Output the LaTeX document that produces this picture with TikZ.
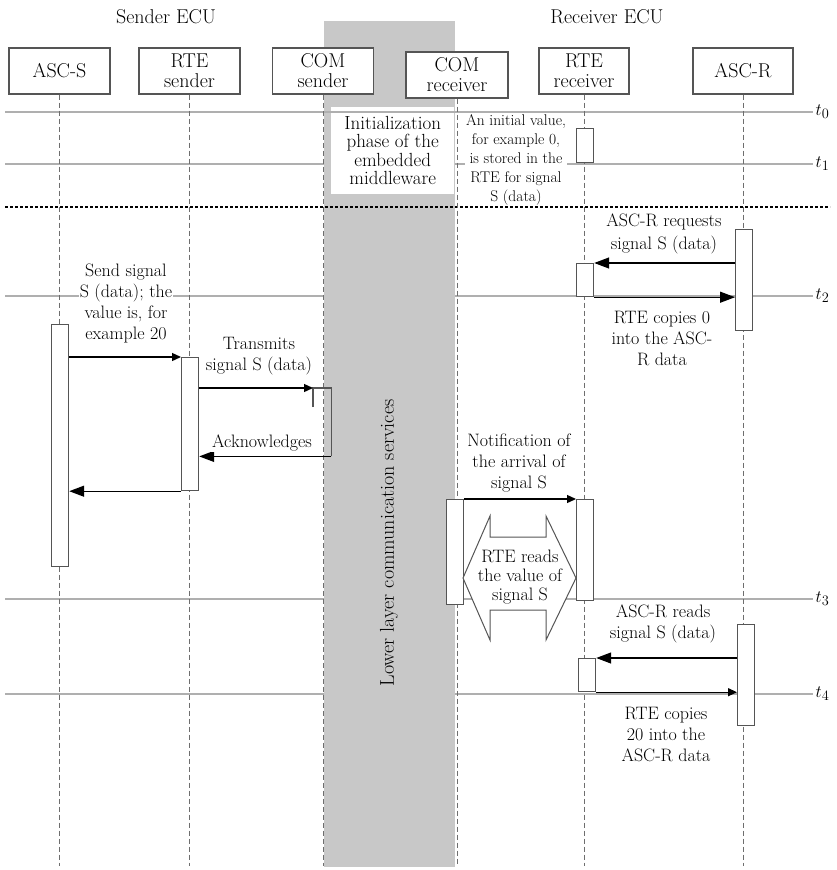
\documentclass[tikz,border=0pt]{standalone}
\usetikzlibrary{arrows.meta}
\definecolor{bandgray}{RGB}{200,200,200}
\definecolor{tgray}{RGB}{175,175,175}
\definecolor{lgray}{RGB}{110,110,110}
\definecolor{boxgray}{RGB}{85,85,85}
\tikzset{
  head/.style={draw=boxgray,line width=1.2pt,fill=white,minimum height=46pt,align=center,inner sep=1pt,font=\fontsize{20}{20}\selectfont},
  bar/.style={draw=boxgray,line width=1.2pt,fill=white,minimum width=17pt,inner sep=0pt,anchor=north west},
  life/.style={lgray,line width=1pt,dash pattern=on 5pt off 3pt},
  tline/.style={tgray,line width=1.4pt},
  bigtip/.style={-{Triangle[length=15pt,width=11pt]},line width=1.3pt},
  smalltip/.style={-{Triangle[length=9pt,width=8pt]},line width=1.3pt},
  lbl/.style={align=center,fill=white,inner sep=1pt,font=\fontsize{18}{21}\selectfont},
  tlbl/.style={right,black,inner sep=2pt,font=\fontsize{19}{20}\selectfont},
}
\begin{document}
\begin{tikzpicture}[x=1pt,y=-1pt]
\useasboundingbox (0,0) rectangle (836,870);
% time lines under the band
\foreach \y/\t in {164/1,296/2,599/3,694/4}
  \draw[tline](5,\y)--(813,\y)node[tlbl]{$t_\t$};
% lower layer
\fill[bandgray](324,21)rectangle(455,867);
\node[fill=white,minimum width=123pt,minimum height=87pt,anchor=north west,inner sep=0pt,align=center,font=\fontsize{19}{18.5}\selectfont](init) at (331,107){Initialization\\phase of the\\embedded\\middleware};
\node[rotate=90,font=\fontsize{20}{20}\selectfont](low) at (389,543){Lower layer communication services};
\draw[tline](5,112)--(813,112)node[tlbl]{$t_0$};
\draw[line width=1.6pt,dash pattern=on 3pt off 2pt](5,207)--(830,207);
% ECUs
\node[font=\fontsize{20}{20}\selectfont](snd) at (166,17){Sender ECU};
\node[font=\fontsize{20}{20}\selectfont](rcv) at (607,17){Receiver ECU};
\node[head,minimum width=101pt](aS) at (59.5,71){ASC-S};
\node[head,minimum width=101pt](rS) at (189.5,71){RTE\\sender};
\node[head,minimum width=101pt](cS) at (323,71){COM\\sender};
\node[head,minimum width=102pt](cR) at (457,75){COM\\receiver};
\node[head,minimum width=90pt](rR) at (584,71){RTE\\receiver};
\node[head,minimum width=100pt](aR) at (743,71){ASC-R};
\coordinate (bottom) at (0,866);
\foreach \n in {aS,rS,cS,cR,rR,aR}
  \draw[life](\n.south)--(\n.south|-bottom);
% activations
\node[bar,minimum height=34pt](rrA) at (576,128){};
\node[bar,minimum height=101pt](arA) at (735,229){};
\node[bar,minimum height=33pt](rrB) at (576,263){};
\node[bar,minimum height=242pt](asA) at (51,324){};
\node[bar,minimum height=133pt](rsA) at (181,357){};
\node[minimum width=18pt,minimum height=68pt,inner sep=0pt,anchor=north west](csA) at (313,388){};
\draw[boxgray,line width=1.2pt]([yshift=-19pt]csA.north west)--(csA.north west)--(csA.north east)--(csA.south east);
\node[bar,minimum height=105pt](crA) at (446,499){};
\node[bar,minimum height=101pt](rrC) at (576,499){};
\node[bar,minimum height=101pt](arB) at (737,624){};
\node[bar,minimum height=33pt](rrD) at (578,658){};
% messages
\draw[smalltip](asA.north east|-rsA.north)--(rsA.north west);
\draw[smalltip](rsA.east|-csA.north)--(csA.north west);
\draw[bigtip](csA.south east)--(rsA.east|-csA.south);
\draw[bigtip](rsA.south west)--(asA.east|-rsA.south);
\draw[bigtip](arA.west|-rrB.north)--(rrB.north east);
\draw[bigtip](rrB.south east)--(arA.west|-rrB.south);
\draw[smalltip](crA.north east)--(rrC.north west);
\draw[bigtip](arB.west|-rrD.north)--(rrD.north east);
\draw[smalltip](rrD.south east)--(arB.west|-rrD.south);
% RTE reads
\draw[boxgray,line width=1pt,fill=white](463,578)--(490,516)--(490,537)--(546,537)--(546,516)--(576,578)--(546,640)--(546,610)--(490,610)--(490,640)--cycle;
\node[align=center,inner sep=0pt,font=\fontsize{18}{19}\selectfont](rd) at (520,577){RTE reads\\the value of\\signal S};
% labels
\node[lbl,font=\fontsize{15.5}{19}\selectfont](ini) at (516,160){An initial value,\\for example 0,\\is stored in the\\RTE for signal\\S (data)};
\node[lbl](send) at (126,303){Send signal\\S (data); the\\value is, for\\example 20};
\node[lbl](tx) at (259,356){Transmits\\signal S (data)};
\node[lbl](ack) at (262,443){Acknowledges};
\node[lbl](req) at (664,234){ASC-R requests\\[2pt]signal S (data)};
\node[lbl](cp0) at (662,338){RTE copies 0\\into the ASC-\\R data};
\node[lbl](ntf) at (519,463){Notification of\\the arrival of\\signal S};
\node[lbl](rds) at (663,624){ASC-R reads\\signal S (data)};
\node[lbl](cp20) at (666,734){RTE copies\\20 into the\\ASC-R data};
\end{tikzpicture}
\end{document}
